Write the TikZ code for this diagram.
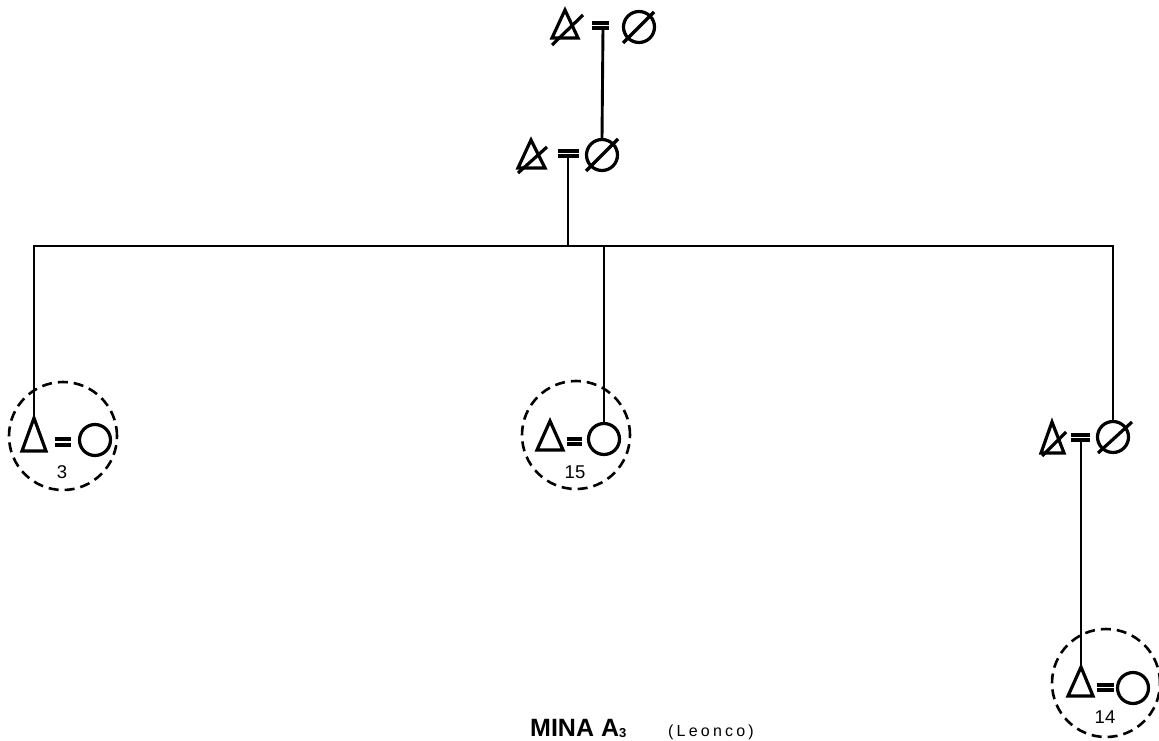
\documentclass[tikz,border=0pt]{standalone}
\usepackage{fontspec}
\setmainfont{Liberation Sans}
\begin{document}
\begin{tikzpicture}[x=1pt,y=-1pt,
  lne/.style={line width=2.9pt},
  sym/.style={line width=3.2pt},
  fem/.style={circle,draw,line width=3.2pt,minimum size=31pt,inner sep=0pt},
  grp/.style={circle,draw,dashed,dash pattern=on 10pt off 6pt,line width=2.6pt,minimum size=108pt,inner sep=0pt},
  num/.style={font=\fontsize{18.5}{20}\selectfont,inner sep=0pt}]
\useasboundingbox (0,0) rectangle (1159,741);

% ---- Generation I
\coordinate (tA) at (565,10);
\draw[sym] (tA) -- (552,38) -- (578,38) -- cycle;
\draw[sym] (552,45) -- (583,15);
\draw[sym] (592,23) -- (609,23) (592,28) -- (609,28);
\coordinate (eA) at (603,28);
\node[fem] (cA) at (639,27) {};
\draw[sym] (623,43) -- (654,12);

% ---- Generation II
\coordinate (tB) at (531,140);
\draw[sym] (tB) -- (518,168) -- (545,168) -- cycle;
\draw[sym] (518,173) -- (547,147);
\draw[sym] (558,151) -- (579,151) (558,156) -- (579,156);
\coordinate (eB) at (568,156);
\node[fem] (cB) at (602,155) {};
\draw[sym] (586,171) -- (618,139);

\draw[lne] (eA) -- (cB.north);

% ---- sibship line
\coordinate (jB) at (568,246);
\coordinate (hL) at (34,246);
\coordinate (hM) at (604,246);
\coordinate (hR) at (1113,246);
\draw[lne] (eB) -- (jB);
\draw[lne,line cap=rect] (hL) -- (hR);

% ---- Left couple
\coordinate (tL) at (34,418);
\draw[sym] (tL) -- (22,451) -- (46,451) -- cycle;
\draw[sym] (55,439) -- (71,439) (55,445) -- (71,445);
\node[fem] (cL) at (95,440) {};
\node[grp] (gL) at (63,436) {};
\node[num] (nL) at (62,472) {3};
\draw[lne] (hL) -- (tL);

% ---- Middle couple
\coordinate (tM) at (550,421);
\draw[sym] (tM) -- (537,450) -- (563,450) -- cycle;
\draw[sym] (567,439) -- (582,439) (567,444) -- (582,444);
\node[fem] (cM) at (604,439) {};
\node[grp] (gM) at (576,435) {};
\node[num] (nM) at (575,472) {15};
\draw[lne] (hM) -- (cM.north);

% ---- Right couple (deceased)
\coordinate (tR) at (1052,422);
\draw[sym] (tR) -- (1041,453) -- (1064,453) -- cycle;
\draw[sym] (1042,456) -- (1066,432);
\draw[sym] (1071,435) -- (1090,435) (1071,440) -- (1090,440);
\coordinate (eR) at (1081,440);
\node[fem] (cR) at (1113,437) {};
\draw[sym] (1098,453) -- (1132,422);
\draw[lne] (hR) -- (cR.north);

% ---- Bottom right couple
\coordinate (tD) at (1081,667);
\draw[sym] (tD) -- (1068,696) -- (1093,696) -- cycle;
\draw[sym] (1097,685) -- (1114,685) (1097,690) -- (1114,690);
\node[fem] (cD) at (1133,688) {};
\node[grp] (gD) at (1106,683) {};
\node[num] (nD) at (1105,717) {14};
\draw[lne] (eR) -- (tD);

% ---- caption
\node[anchor=base west,inner sep=0pt,font=\fontsize{25}{30}\selectfont\bfseries] (cap) at (530,736) {MINA A\raisebox{-1pt}{\fontsize{13}{14}\selectfont 3}};
\node[anchor=base west,inner sep=0pt,font=\fontsize{16}{20}\selectfont] (capb) at (668,736) {\addfontfeature{LetterSpace=20}(Leonco)};
\end{tikzpicture}
\end{document}
